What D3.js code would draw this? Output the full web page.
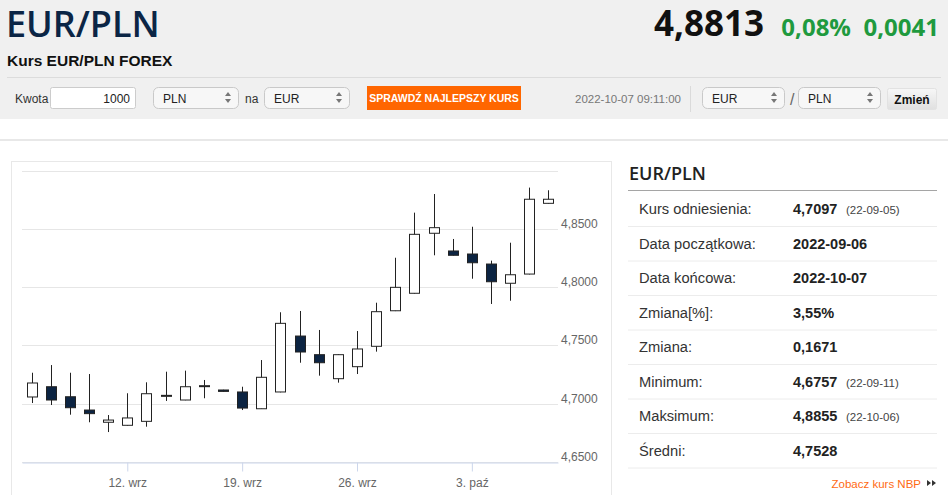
<!DOCTYPE html>
<meta charset="utf-8" />
<script src="https://d3js.org/d3.v7.min.js"></script>
<style>
  body { margin: 0; background: #fff; }
  svg { display: block; }
</style>
<div id="page"></div>
<script>
  // sesje (nd-pt), dane z wykresu
  const days = [
    '2022-09-06', '2022-09-07', '2022-09-08', '2022-09-09', '2022-09-11',
    '2022-09-12', '2022-09-13', '2022-09-14', '2022-09-15', '2022-09-16',
    '2022-09-18', '2022-09-19', '2022-09-20', '2022-09-21', '2022-09-22',
    '2022-09-23', '2022-09-25', '2022-09-26', '2022-09-27', '2022-09-28',
    '2022-09-29', '2022-09-30', '2022-10-02', '2022-10-03', '2022-10-04',
    '2022-10-05', '2022-10-06', '2022-10-07',
  ];
  const open = [
    4.7058, 4.7146, 4.7060, 4.6946, 4.6841, 4.6815, 4.6849, 4.7066, 4.7032, 4.7149,
    4.7118, 4.7101, 4.6957, 4.7101, 4.7581, 4.7421, 4.7215, 4.7318, 4.7493, 4.7798,
    4.7948, 4.8463, 4.8311, 4.8285, 4.8199, 4.8034, 4.8113, 4.8720,
  ];
  const high = [
    4.7266, 4.7332, 4.7266, 4.7255, 4.6903, 4.7090, 4.7184, 4.7275, 4.7284, 4.7204,
    4.7120, 4.7146, 4.7375, 4.7785, 4.7796, 4.7633, 4.7424, 4.7624, 4.7867, 4.8253,
    4.8640, 4.8800, 4.8414, 4.8519, 4.8228, 4.8382, 4.8855, 4.8832,
  ];
  const low = [
    4.7006, 4.6989, 4.6906, 4.6841, 4.6757, 4.6812, 4.6803, 4.7024, 4.7030, 4.7047,
    4.7104, 4.6946, 4.6955, 4.7098, 4.7352, 4.7241, 4.7181, 4.7255, 4.7447, 4.7795,
    4.7945, 4.8274, 4.8272, 4.8073, 4.7856, 4.7884, 4.8110, 4.8718,
  ];
  const close = [
    4.7178, 4.7032, 4.6966, 4.6915, 4.6860, 4.6878, 4.7086, 4.7072, 4.7146, 4.7155,
    4.7106, 4.6963, 4.7227, 4.7690, 4.7444, 4.7352, 4.7421, 4.7470, 4.7790, 4.7999,
    4.8454, 4.8511, 4.8274, 4.8210, 4.8047, 4.8107, 4.8755, 4.8755,
  ];
  const xTickIdx = [5, 11, 17, 23];
  const xTickLabels = ['12. wrz', '19. wrz', '26. wrz', '3. paź'];
  const yTicks = [4.65, 4.7, 4.75, 4.8, 4.85, 4.9];

  const statLabels = ['Kurs odniesienia:', 'Data początkowa:', 'Data końcowa:', 'Zmiana[%]:',
    'Zmiana:', 'Minimum:', 'Maksimum:', 'Średni:'];
  const statValues = ['4,7097', '2022-09-06', '2022-10-07', '3,55%', '0,1671', '4,6757', '4,8855', '4,7528'];
  const statNotes = ['(22-09-05)', '', '', '', '', '(22-09-11)', '(22-10-06)', ''];

  const W = 948, H = 495;
  const arial = '"Liberation Sans", Arial, sans-serif';
  const opens = '"Open Sans", sans-serif';

  const svg = d3.select('#page').append('svg').attr('width', W).attr('height', H);

  // ---- naglowek ----
  svg.append('rect').attr('width', W).attr('height', 119).attr('fill', '#f0f0f0');
  svg.append('text').attr('x', 6).attr('y', 37).text('EUR/PLN')
    .attr('font-family', opens).attr('font-weight', 600).attr('font-size', 36).attr('fill', '#0b2545');
  svg.append('text').attr('x', 7).attr('y', 66).text('Kurs EUR/PLN FOREX')
    .attr('font-family', arial).attr('font-weight', 'bold').attr('font-size', 15.5).attr('fill', '#111');
  svg.append('line').attr('x1', 7).attr('x2', 941).attr('y1', 77.5).attr('y2', 77.5).attr('stroke', '#dcdcdc');

  svg.append('text').attr('x', 764).attr('y', 36).attr('text-anchor', 'end').text('4,8813')
    .attr('font-family', opens).attr('font-weight', 700).attr('font-size', 35).attr('fill', '#111');
  svg.append('text').attr('x', 851).attr('y', 36).attr('text-anchor', 'end').text('0,08%')
    .attr('font-family', opens).attr('font-weight', 700).attr('font-size', 24).attr('fill', '#1f9a3e');
  svg.append('text').attr('x', 939).attr('y', 36).attr('text-anchor', 'end').text('0,0041')
    .attr('font-family', opens).attr('font-weight', 700).attr('font-size', 24).attr('fill', '#1f9a3e');

  // formularz
  function label(x, txt, opts = {}) {
    return svg.append('text').attr('x', x).attr('y', opts.y || 103).text(txt)
      .attr('font-family', arial).attr('font-size', opts.size || 12)
      .attr('fill', opts.fill || '#333').attr('text-anchor', opts.anchor || 'start')
      .attr('font-weight', opts.bold ? 'bold' : 'normal');
  }
  function select(x, w, txt) {
    svg.append('rect').attr('x', x + 0.5).attr('y', 87.5).attr('width', w).attr('height', 21)
      .attr('rx', 5).attr('fill', '#f7f7f7').attr('stroke', '#c9c9c9');
    label(x + 10, txt, { fill: '#222' });
    const ax = x + w - 10;
    svg.append('path').attr('d', `M${ax - 3},96 L${ax + 3},96 L${ax},92 Z M${ax - 3},99 L${ax + 3},99 L${ax},103 Z`)
      .attr('fill', '#777');
  }
  label(15, 'Kwota');
  svg.append('rect').attr('x', 50.5).attr('y', 87.5).attr('width', 85).attr('height', 21)
    .attr('rx', 2).attr('fill', '#fff').attr('stroke', '#ccc');
  label(130, '1000', { anchor: 'end', fill: '#222' });
  select(153, 85, 'PLN');
  label(245, 'na');
  select(264, 85, 'EUR');
  svg.append('rect').attr('x', 367).attr('y', 86).attr('width', 154).attr('height', 24).attr('fill', '#ff6600');
  label(444, 'SPRAWDŹ NAJLEPSZY KURS', { anchor: 'middle', fill: '#fff', bold: true, size: 10.5, y: 102 });
  label(575, '2022-10-07 09:11:00', { fill: '#777', size: 11.5 });
  svg.append('line').attr('x1', 690.5).attr('x2', 690.5).attr('y1', 86).attr('y2', 112).attr('stroke', '#dadada');
  select(702, 82, 'EUR');
  label(790, '/', { fill: '#666', size: 16, y: 105 });
  select(798, 82, 'PLN');
  const grad = svg.append('defs').append('linearGradient').attr('id', 'btn')
    .attr('x1', 0).attr('x2', 0).attr('y1', 0).attr('y2', 1);
  grad.append('stop').attr('offset', 0).attr('stop-color', '#f7f7f7');
  grad.append('stop').attr('offset', 1).attr('stop-color', '#e0e0e0');
  svg.append('rect').attr('x', 887.5).attr('y', 88.5).attr('width', 49).attr('height', 21)
    .attr('rx', 2).attr('fill', 'url(#btn)').attr('stroke', '#e2e2e2');
  label(912, 'Zmień', { anchor: 'middle', fill: '#111', bold: true, size: 12, y: 104 });

  svg.append('line').attr('x1', 0).attr('x2', W).attr('y1', 140).attr('y2', 140)
    .attr('stroke', '#e8e8e8').attr('stroke-width', 2);

  // ---- wykres swiecowy ----
  svg.append('rect').attr('x', 11.5).attr('y', 161.5).attr('width', 600).attr('height', 340)
    .attr('fill', '#fff').attr('stroke', '#e8e8e8');

  const x = d3.scaleLinear().domain([-0.5, days.length - 0.5]).range([22, 558]);
  const y = d3.scaleLinear().domain([4.65, 4.9]).range([462, 170.7]);
  const fmt = (v) => d3.format('.4f')(v).replace('.', ',');

  const chart = svg.append('g');
  chart.selectAll('.grid').data(yTicks).join('line')
    .attr('x1', 22).attr('x2', 558)
    .attr('y1', (d) => Math.round(y(d)) + 0.5).attr('y2', (d) => Math.round(y(d)) + 0.5)
    .attr('stroke', '#e6e6e6');
  chart.selectAll('.ylab').data(yTicks.filter((d) => d < 4.9)).join('text')
    .attr('x', 561).attr('y', (d) => Math.round(y(d)) - 1.5).text(fmt)
    .attr('font-family', arial).attr('font-size', 12).attr('fill', '#666');

  const xAxis = chart.append('g').attr('transform', 'translate(0,462.5)')
    .call(d3.axisBottom(x).tickValues(xTickIdx).tickSize(9).tickSizeOuter(0).tickPadding(7)
      .tickFormat((d, i) => xTickLabels[i]));
  xAxis.select('.domain').attr('stroke', '#ccd6eb');
  xAxis.selectAll('.tick line').attr('stroke', '#ccd6eb');
  xAxis.selectAll('.tick text').attr('font-family', arial).attr('font-size', 12).attr('fill', '#666');

  const candles = chart.selectAll('.candle').data(days).join('g');
  candles.append('line')
    .attr('x1', (d, i) => Math.round(x(i)) + 0.5).attr('x2', (d, i) => Math.round(x(i)) + 0.5)
    .attr('y1', (d, i) => y(high[i])).attr('y2', (d, i) => y(low[i]))
    .attr('stroke', '#222');
  candles.append('rect')
    .attr('x', (d, i) => Math.round(x(i)) - 4.5).attr('width', 10)
    .attr('y', (d, i) => y(Math.max(open[i], close[i])))
    .attr('height', (d, i) => Math.max(1, Math.abs(y(open[i]) - y(close[i]))))
    .attr('fill', (d, i) => (close[i] >= open[i] ? '#fff' : '#0c2442'))
    .attr('stroke', '#222');

  // ---- tabela ----
  svg.append('text').attr('x', 629).attr('y', 180).text('EUR/PLN')
    .attr('font-family', opens).attr('font-weight', 600).attr('font-size', 18).attr('fill', '#222');
  svg.append('line').attr('x1', 628).attr('x2', 937).attr('y1', 190.5).attr('y2', 190.5).attr('stroke', '#a5a5a5');
  const rows = svg.selectAll('.row').data(statLabels).join('g')
    .attr('transform', (d, i) => `translate(0,${214 + i * 34.5})`);
  rows.append('text').attr('x', 639).text((d) => d)
    .attr('font-family', arial).attr('font-size', 14.7).attr('fill', '#333');
  rows.append('text').attr('x', 793).text((d, i) => statValues[i])
    .attr('font-family', arial).attr('font-weight', 'bold').attr('font-size', 14.5).attr('fill', '#222');
  rows.append('text').attr('x', 846).text((d, i) => statNotes[i])
    .attr('font-family', arial).attr('font-size', 11.5).attr('fill', '#444');
  rows.append('line').attr('x1', 628).attr('x2', 937).attr('y1', 12.5).attr('y2', 12.5).attr('stroke', '#ececec');

  svg.append('text').attr('x', 921).attr('y', 488).attr('text-anchor', 'end').text('Zobacz kurs NBP')
    .attr('font-family', arial).attr('font-size', 11.5).attr('fill', '#ff6a13');
  svg.append('path').attr('d', 'M927,480 L931,483 L927,486 Z M932,480 L936,483 L932,486 Z').attr('fill', '#333');
</script>
